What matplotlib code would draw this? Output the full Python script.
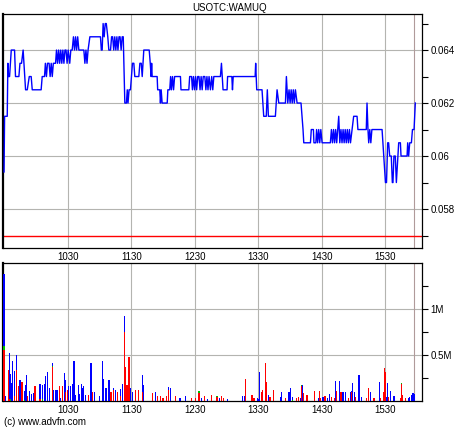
import matplotlib
matplotlib.use('Agg')
import matplotlib.pyplot as plt
from matplotlib.ticker import FixedLocator, FuncFormatter

plt.rcParams['font.family'] = ['Liberation Sans', 'DejaVu Sans']

# minutes after 9:30, price knots of the intraday line
price_t = [0, 0.5, 3, 3.6, 4.2, 5.2, 6.8, 9.9, 10.8, 14, 15, 16.5, 18, 20.3, 21.9, 23.8,
           25.6, 26.6, 35, 36, 38.2, 39, 40, 41, 42.5, 43.5, 44.5, 45.5, 46.5, 48.6, 49.5,
           50.5, 51.5, 52.5, 53.5, 54.5, 55.5, 56.5, 57.5, 58.5, 59.5, 60.5, 62, 63, 64.3,
           65.5, 66.5, 67.5, 68.5, 69.5, 70.6, 75.3, 76.3, 77.3, 78.3, 79.3, 81, 91, 91.8,
           92.6, 93.5, 94.5, 95.5, 96.5, 97.9, 98.9, 100.5, 101.5, 102.5, 103.5, 104.5,
           105.5, 106.5, 107.5, 108.5, 109.5, 110.5, 111.5, 112.5, 114, 115.5, 116.3, 117,
           118, 119.3, 121.2, 122.5, 123.4, 127.2, 128.2, 129.5, 130.4, 131.9, 137, 138,
           138.8, 139.3, 139.8, 144.5, 145, 147, 147.6, 148.3, 149.2, 154, 154.6, 156.4,
           157.2, 158, 159, 160, 161, 166.5, 167, 174.4, 175.2, 177, 177.8, 178.8, 179.8,
           180.8, 181.8, 182.8, 184, 185, 186, 187, 188, 189.5, 190.5, 191.5, 192.5, 193.5,
           194.8, 196, 197, 198, 204.2, 205.2, 206.7, 210.5, 211, 215, 215.6, 216.3, 237,
           237.5, 238.5, 240.2, 243.5, 245.1, 247.5, 248.5, 249.5, 256.1, 257.7, 259.3,
           265.6, 266.5, 267.8, 269, 270, 271, 272, 273, 274, 275, 276.6, 280.3, 282.2,
           282.9, 289.2, 290, 292, 292.5, 294.3, 295, 296, 297, 298, 299, 300.2, 308, 309,
           310, 311, 312, 313, 314, 315, 315.9, 316.9, 318, 319, 320, 321, 322, 323, 324,
           325, 326, 327, 328.5, 330, 333.2, 334, 341.9, 342.6, 343.5, 344.2, 345.2, 346.2,
           347.2, 356.8, 358.4, 360, 361, 362.1, 363, 364, 365.5, 366.5, 367.1, 368, 369.3,
           370.3, 372.5, 374.1, 374.7, 380.4, 381, 381.9, 382.9, 384.5, 385.5, 387, 388.2]
price_v = [0.0594, 0.0615, 0.0615, 0.0635, 0.063, 0.063, 0.064, 0.064, 0.063, 0.063, 0.0635,
           0.0635, 0.064, 0.0625, 0.0625, 0.063, 0.063, 0.0625, 0.0625, 0.063, 0.063, 0.0635,
           0.063, 0.0635, 0.0635, 0.063, 0.0635, 0.063, 0.0635, 0.0635, 0.064, 0.0635, 0.064,
           0.0635, 0.064, 0.0635, 0.064, 0.0635, 0.064, 0.064, 0.0635, 0.064, 0.0635, 0.064,
           0.064, 0.0645, 0.064, 0.0645, 0.064, 0.0645, 0.064, 0.064, 0.0635, 0.064, 0.0635,
           0.064, 0.0645, 0.0645, 0.064, 0.064, 0.065, 0.0645, 0.065, 0.065, 0.0645, 0.064,
           0.064, 0.0645, 0.0645, 0.064, 0.0645, 0.064, 0.0645, 0.064, 0.0645, 0.0645, 0.064,
           0.0645, 0.0645, 0.062, 0.062, 0.0625, 0.062, 0.0625, 0.0625, 0.0635, 0.0635, 0.063,
           0.063, 0.0635, 0.0635, 0.063, 0.064, 0.064, 0.0635, 0.063, 0.0635, 0.063, 0.063,
           0.0625, 0.0625, 0.062, 0.0625, 0.062, 0.062, 0.0625, 0.0625, 0.063, 0.0625, 0.063,
           0.0625, 0.063, 0.063, 0.0625, 0.0625, 0.063, 0.063, 0.0625, 0.063, 0.0625, 0.063,
           0.0625, 0.063, 0.063, 0.0625, 0.063, 0.0625, 0.063, 0.063, 0.0625, 0.063, 0.0625,
           0.063, 0.0625, 0.063, 0.0625, 0.063, 0.063, 0.0635, 0.0625, 0.0625, 0.063, 0.063,
           0.0625, 0.063, 0.063, 0.0635, 0.0625, 0.0625, 0.0625, 0.0615, 0.0615, 0.0625,
           0.0615, 0.0615, 0.0625, 0.062, 0.062, 0.063, 0.062, 0.0625, 0.062, 0.0625, 0.062,
           0.0625, 0.062, 0.0625, 0.062, 0.062, 0.061, 0.0605, 0.0605, 0.061, 0.061, 0.0605,
           0.0605, 0.061, 0.0605, 0.061, 0.0605, 0.061, 0.0605, 0.0605, 0.061, 0.0605, 0.061,
           0.0605, 0.061, 0.0605, 0.061, 0.0615, 0.0605, 0.061, 0.0605, 0.061, 0.0605, 0.061,
           0.0605, 0.061, 0.0605, 0.061, 0.0605, 0.061, 0.0615, 0.0615, 0.061, 0.061, 0.062,
           0.061, 0.0605, 0.061, 0.0605, 0.061, 0.061, 0.060, 0.059, 0.059, 0.0605, 0.0605,
           0.060, 0.060, 0.059, 0.059, 0.060, 0.060, 0.059, 0.0605, 0.0605, 0.060, 0.060,
           0.0605, 0.060, 0.0605, 0.0605, 0.061, 0.061, 0.062]

prev_close = 0.057
last_minute = 387

# volume (thousand shares) per minute, one list pair per colour
red_t = [0, 4, 5, 10, 12, 14, 17, 22, 29, 30, 34, 46, 52, 55, 58, 60, 80, 83, 101, 103, 107,
         110, 114, 115, 116, 117, 118, 124, 127, 131, 140, 145, 148, 150, 153, 155, 162, 177,
         181, 184, 189, 196, 201, 205, 207, 228, 234, 236, 243, 244, 247, 248, 251, 254, 266,
         276, 278, 281, 283, 286, 293, 298, 299, 303, 309, 312, 314, 318, 325, 328, 332, 342,
         344, 349, 350, 355, 358, 359, 360, 363, 374, 375, 376, 379]
red_v = [550, 340, 20, 50, 340, 160, 210, 50, 160, 160, 20, 370, 160, 160, 100, 120, 60, 100,
         100, 120, 100, 50, 750, 370, 170, 150, 480, 120, 120, 100, 90, 50, 50, 30, 50, 120,
         50, 30, 30, 90, 50, 60, 40, 50, 30, 240, 60, 30, 100, 120, 410, 210, 47, 120, 30, 30,
         47, 163, 83, 65, 107, 110, 30, 54, 47, 30, 107, 94, 30, 100, 47, 30, 145, 30, 30, 30,
         94, 362, 312, 47, 30, 190, 65, 30]
green_t = [0, 6, 19, 36, 46, 184, 201, 272, 281, 375]
green_v = [50, 20, 10, 20, 10, 20, 15, 10, 10, 10]
blue_t = [0, 1, 5, 6, 7, 8, 10, 12, 15, 19, 20, 21, 24, 26, 28, 34, 36, 38, 39, 41, 43, 46, 47,
          49, 50, 53, 57, 58, 61, 63, 65, 66, 67, 70, 71, 73, 74, 75, 77, 82, 85, 90, 93, 94,
          96, 97, 99, 103, 105, 110, 112, 114, 119, 121, 131, 132, 143, 155, 157, 166, 171,
          186, 192, 203, 211, 225, 227, 239, 240, 241, 250, 261, 262, 269, 270, 272, 280, 282,
          297, 301, 305, 307, 313, 317, 320, 322, 327, 328, 329, 331, 335, 337, 346, 354, 361,
          362, 365, 368, 382, 383, 385, 386, 387]
blue_v = [780, 50, 500, 270, 200, 440, 280, 160, 230, 100, 170, 280, 110, 80, 90, 160, 150,
          190, 270, 310, 140, 30, 120, 120, 120, 30, 300, 130, 160, 160, 190, 430, 60, 170, 80,
          190, 140, 160, 60, 410, 100, 50, 440, 240, 140, 140, 230, 20, 120, 80, 190, 170, 140,
          100, 180, 170, 100, 30, 140, 30, 50, 30, 20, 30, 20, 50, 50, 30, 20, 320, 65, 47, 94,
          100, 145, 30, 30, 174, 30, 47, 30, 72, 217, 217, 94, 94, 94, 10, 200, 94, 283, 47,
          94, 210, 47, 200, 107, 54, 36, 47, 65, 83, 72]

hour_ticks = [60, 120, 180, 240, 300, 360]
hour_labels = ['1030', '1130', '1230', '1330', '1430', '1530']

grid_col = '#b4b4b0'
fs = 7

fig = plt.figure(figsize=(4.6, 4.3), dpi=100)
ax1 = fig.add_axes([3 / 460, 182 / 430, 419 / 460, 234 / 430])
ax2 = fig.add_axes([3 / 460, 29 / 430, 419 / 460, 138 / 430])

# price panel
ax1.plot(price_t, price_v, color='#0000ff', lw=1.0, zorder=3)
ax1.axhline(prev_close, color='#ff0000', lw=1.0, zorder=2)
ax1.set_ylim(0.05653, 0.06536)
ax1.yaxis.set_major_locator(FixedLocator([0.058, 0.060, 0.062, 0.064]))
ax1.yaxis.set_minor_locator(FixedLocator([0.057, 0.059, 0.061, 0.063, 0.065]))
ax1.yaxis.set_major_formatter(FuncFormatter(lambda v, p: '%g' % round(v, 4)))

# volume panel: red at the bottom, green on it, blue on top
red_at = dict(zip(red_t, red_v))
green_at = dict(zip(green_t, green_v))
ax2.bar(red_t, [v * 1000 for v in red_v], width=1.1, color='#ff0000', lw=0, zorder=3)
ax2.bar(green_t, [v * 1000 for v in green_v], width=1.1,
        bottom=[red_at.get(t, 0) * 1000 for t in green_t], color='#00c000', lw=0, zorder=3)
ax2.bar(blue_t, [v * 1000 for v in blue_v], width=1.1,
        bottom=[(red_at.get(t, 0) + green_at.get(t, 0)) * 1000 for t in blue_t],
        color='#0000ff', lw=0, zorder=3)
ax2.set_ylim(0, 1.5e6)
ax2.yaxis.set_major_locator(FixedLocator([0.5e6, 1e6]))
ax2.yaxis.set_minor_locator(FixedLocator([0.25e6, 0.75e6, 1.25e6]))
ax2.yaxis.set_major_formatter(FuncFormatter(lambda v, p: '%gM' % (v / 1e6)))

for ax in (ax1, ax2):
    ax.set_xlim(-1, 394.5)
    ax.set_xticks(hour_ticks)
    ax.set_xticklabels(hour_labels)
    ax.yaxis.tick_right()
    ax.tick_params(axis='x', length=0, labelsize=fs, pad=3)
    ax.tick_params(axis='y', which='both', direction='out', length=4, width=0.8,
                   labelsize=fs, pad=2)
    ax.grid(True, which='major', color=grid_col, lw=0.8, zorder=1)
    ax.axvline(last_minute, color='#b09a9a', lw=0.8, zorder=1)
    for side in ['top', 'bottom', 'right']:
        ax.spines[side].set_linewidth(0.9)
    ax.spines['left'].set_linewidth(1.6)
    ax.set_axisbelow(True)

fig.text(230 / 460, 1 - 8 / 430, 'USOTC:WAMUQ', ha='center', va='center', fontsize=fs)
fig.text(4 / 460, 1 - 422 / 430, '(c) www.advfn.com', ha='left', va='center', fontsize=fs)

fig.savefig('out.png', dpi=100)
